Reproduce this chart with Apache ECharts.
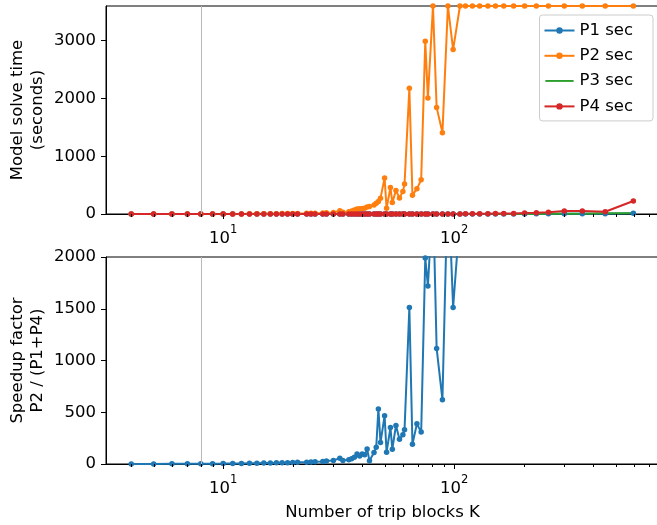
<!DOCTYPE html>
<html>
<head>
<meta charset="utf-8">
<script src="https://cdn.jsdelivr.net/npm/echarts@6/dist/echarts.min.js"></script>
<style>
html,body{margin:0;padding:0;background:#fff;}
#chart{width:657px;height:525px;}
</style>
</head>
<body>
<div id="chart"></div>
<script>
// ---- data ----
const kValues = [4,5,6,7,8,9,10,11,12,13,14,15,16,17,18,19,20,
  21,23,24,25,27,28,30,
  32,33,35,36,37,38,39,40,41,42,43,45,46,47,48,
  50,51,53,54,56,58,60,61,64,66,69,72,75,77,81,84,89,94,99,106,
  112,120,129,140,151,164,181,202,227,256,300,359,451,597];

const p1Sec = [0.05,0.05,0.05,0.06,0.06,0.07,0.07,0.08,0.08,0.09,0.09,0.1,0.1,0.11,0.12,0.12,0.13,
  0.14,0.15,0.16,0.17,0.18,0.19,0.2,
  0.21,0.22,0.23,0.24,0.25,0.26,0.27,0.28,0.29,0.3,0.31,0.32,0.33,0.34,0.35,
  0.36,0.37,0.38,0.4,0.42,0.44,0.46,0.48,0.5,0.52,0.55,0.58,0.6,0.63,0.66,0.7,0.74,0.78,0.82,0.86,
  0.9,1,1.1,1.2,1.3,1.5,1.7,2,2.3,2.7,3.2,4,6,12];

const p2Sec = [0.1,0.2,0.3,0.4,0.6,0.8,1,1.5,2,2.5,3,4,5,6,7,8,9,
  10,12,14,15,18,20,25,
  55,30,40,50,70,87,90,95,99,120,128,157,186,215,274,
  623,100,460,197,407,279,389,518,2176,326,436,593,2990,2007,3600,1845,1408,3600,2845,3600,
  3600,3600,3600,3600,3600,3600,3600,3600,3600,3600,3600,3600,3600,3600];

const p3Sec = [0.05,0.05,0.05,0.05,0.06,0.06,0.06,0.07,0.07,0.07,0.08,0.08,0.08,0.09,0.09,0.1,0.1,
  0.1,0.11,0.11,0.12,0.12,0.13,0.13,
  0.14,0.14,0.15,0.15,0.16,0.16,0.17,0.17,0.18,0.18,0.19,0.19,0.2,0.2,0.21,
  0.22,0.22,0.23,0.24,0.25,0.26,0.27,0.28,0.29,0.3,0.32,0.34,0.36,0.38,0.4,0.42,0.44,0.46,0.48,0.5,
  0.55,0.6,0.7,0.8,0.9,1,1.2,1.5,2,2.5,5,6,12,15];

const p4Sec = [0.1,0.1,0.2,0.2,0.3,0.3,0.4,0.4,0.5,0.5,0.6,0.6,0.7,0.7,0.8,0.8,0.9,
  0.9,1,1,1,1,1.1,1.1,
  1.1,1.1,1.1,1.2,1.2,1.2,1.2,1.2,1.2,1.3,1.3,1.3,1.3,1.3,1.3,
  1.3,1.3,1.3,1.3,1.4,1.4,1.4,1.4,1.4,1.5,1.5,1.5,1.5,1.5,1.6,1.6,1.6,1.7,1.7,1.8,
  3,4,5,6,7,8,10,17,20,29,50,50,38,225];

const speedup = [1,1,2,2,3,3,4,5,6,7,8,9,10,11,12,13,15,
  16,18,20,22,25,30,35,
  55,35,40,50,65,97,78,97,90,146,32,110,162,531,207,
  466,114,352,143,372,240,282,330,1512,191,388,308,1990,1721,2600,1117,621,2800,1512,2400,
  null,null,null,null,null,null,null,null,null,null,null,null,null,null];

const seriesNames = ['P1 sec','P2 sec','P3 sec','P4 sec'];
const topYTicks = [0,1000,2000,3000];
const bottomYTicks = [0,500,1000,1500,2000];
const majorTicksK = [10,100];
const minorTicksK = [4,5,6,7,8,9,20,30,40,50,60,70,80,90,200,300,400,500,600,700];
const refLineK = 8;

// ---- styling ----
const FONT = 'DejaVu Sans';
const FS = 16.5;
const C = {blue:'#1f77b4', orange:'#ff7f0e', green:'#2ca02c', red:'#d62728'};

const pairs = arr => kValues.map((k,i)=>[k, arr[i]]);
const tickData = majorTicksK.map(k=>[k,1]).concat(minorTicksK.map(k=>[k,0]));

function xAxisCfg(idx, withName){
  const a = {
    type:'log', logBase:10, gridIndex:idx, min:3.11, max:771,
    axisLine:{show:true, onZero:false, lineStyle:{color:'#000', width:1}},
    axisTick:{show:false},
    splitLine:{show:false},
    axisLabel:{
      margin:10, color:'#000', fontFamily:FONT,
      formatter:function(v){
        const e = Math.log10(v);
        const r = Math.round(e);
        if (Math.abs(e-r) < 1e-6) return '{b|10}{s|'+r+'}';
        return '';
      },
      rich:{
        b:{fontSize:FS, fontFamily:FONT, color:'#000', verticalAlign:'bottom', lineHeight:23},
        s:{fontSize:FS*0.7, fontFamily:FONT, color:'#000', verticalAlign:'top', lineHeight:23}
      }
    }
  };
  if (withName){
    a.name = 'Number of trip blocks K';
    a.nameLocation = 'middle';
    a.nameGap = 40;
    a.nameMoveOverlap = false;
    a.nameTextStyle = {fontSize:FS, fontFamily:FONT, color:'#000'};
  }
  return a;
}
function yAxisCfg(idx, max, interval, ticks, name){
  return {
    type:'value', gridIndex:idx, min:0, max:max, interval:interval,
    name:name, nameLocation:'middle', nameGap:58, nameRotate:90, nameMoveOverlap:false,
    nameTextStyle:{fontSize:FS, fontFamily:FONT, color:'#000', lineHeight:20, align:'center'},
    axisLine:{show:true, lineStyle:{color:'#000', width:1}},
    axisTick:{show:true, length:5, customValues:ticks, lineStyle:{color:'#000', width:1}},
    axisLabel:{customValues:ticks, margin:10, fontSize:FS, fontFamily:FONT, color:'#000',
      formatter:function(v){ return String(v); }},
    splitLine:{show:false}
  };
}
function lineSeries(name, data, color, xi, withSymbol){
  return {
    name:name, type:'line', xAxisIndex:xi, yAxisIndex:xi, data:data,
    symbol: withSymbol ? 'circle' : 'none', symbolSize:5.5, showSymbol:withSymbol,
    lineStyle:{color:color, width:2}, itemStyle:{color:color},
    emphasis:{disabled:true}, animation:false, clip:true
  };
}
function tickSeries(gi){
  return {
    type:'custom', xAxisIndex:gi, yAxisIndex:gi, data:tickData, silent:true, clip:false, z:5,
    animation:false,
    renderItem:function(params, api){
      const k = api.value(0);
      const major = api.value(1) === 1;
      const p = api.coord([k, 0]);
      const x = Math.round(p[0]) + 0.5;
      return {type:'line', shape:{x1:x, y1:p[1], x2:x, y2:p[1] + (major ? 5 : 3)},
        style:{stroke:'#000', lineWidth:1}};
    }
  };
}
function refLine(){
  return {symbol:['none','none'], silent:true, animation:false, label:{show:false},
    lineStyle:{color:'#b8b8b8', width:1, type:'solid'}, emphasis:{disabled:true},
    data:[{xAxis:refLineK}]};
}

const s1 = lineSeries(seriesNames[0], pairs(p1Sec), C.blue, 0, true);
s1.markLine = refLine();
const sp = lineSeries('speedup', pairs(speedup), C.blue, 1, true);
sp.markLine = refLine();

const legendData = seriesNames.map(n => n === 'P3 sec'
  ? {name:n, icon:'path://M0,0L0,0M0,3.1L30,3.1L30,5.1L0,5.1ZM30,8.5L30,8.5'}
  : {name:n});

const chart = echarts.init(document.getElementById('chart'), null, {renderer:'canvas'});
chart.setOption({
  animation:false,
  backgroundColor:'#fff',
  textStyle:{fontFamily:FONT},
  grid:[
    {left:106, top:6, width:553, height:208, show:true, borderColor:'#000', borderWidth:1, backgroundColor:'transparent', outerBoundsMode:'none', containLabel:false},
    {left:106, top:257, width:553, height:207, show:true, borderColor:'#000', borderWidth:1, backgroundColor:'transparent', outerBoundsMode:'none', containLabel:false}
  ],
  xAxis:[xAxisCfg(0,false), xAxisCfg(1,true)],
  yAxis:[
    yAxisCfg(0, 3600, 1000, topYTicks, 'Model solve time\n(seconds)'),
    yAxisCfg(1, 2000, 500, bottomYTicks, 'Speedup factor\nP2 / (P1+P4)')
  ],
  legend:{
    data:legendData, orient:'vertical', right:4, top:15,
    backgroundColor:'rgba(255,255,255,0.8)', borderColor:'#cccccc', borderWidth:1, borderRadius:3,
    padding:[7,20,6,4], itemWidth:30, itemHeight:8, itemGap:8.3,
    textStyle:{fontSize:FS, fontFamily:FONT, color:'#000'},
    selectedMode:false
  },
  series:[
    s1,
    lineSeries(seriesNames[1], pairs(p2Sec), C.orange, 0, true),
    lineSeries(seriesNames[2], pairs(p3Sec), C.green, 0, false),
    lineSeries(seriesNames[3], pairs(p4Sec), C.red, 0, true),
    sp,
    tickSeries(0),
    tickSeries(1)
  ]
});
</script>
</body>
</html>
